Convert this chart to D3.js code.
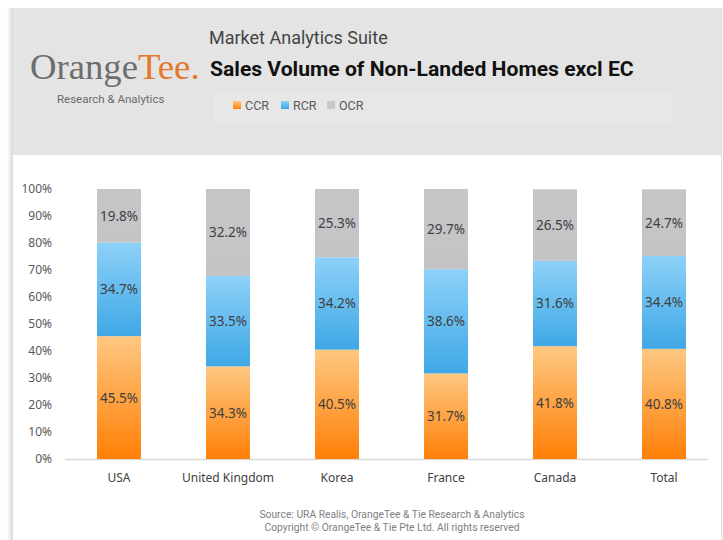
<!DOCTYPE html>
<html><head><meta charset="utf-8">
<script src="https://cdn.jsdelivr.net/npm/d3@7"></script>
<style>html,body{margin:0;padding:0;background:#fff;}svg{display:block;}</style>
</head><body>
<script>
const categories = ["USA","United Kingdom","Korea","France","Canada","Total"];
const seriesNames = ["CCR","RCR","OCR"];
const ccr = [45.5,34.3,40.5,31.7,41.8,40.8];
const rcr = [34.7,33.5,34.2,38.6,31.6,34.4];
const ocr = [19.8,32.2,25.3,29.7,26.5,24.7];
const yTicks = [0,10,20,30,40,50,60,70,80,90,100];

const W=723,H=540;
const svg=d3.select("body").append("svg").attr("width",W).attr("height",H);
const defs=svg.append("defs");
function grad(id,top,bot){const g=defs.append("linearGradient").attr("id",id).attr("x1",0).attr("y1",0).attr("x2",0).attr("y2",1);
 g.append("stop").attr("offset","0%").attr("stop-color",top);g.append("stop").attr("offset","100%").attr("stop-color",bot);}
grad("gCCR","#fec882","#ff7f06");
grad("gRCR","#8dd1f8","#3fa8e6");
grad("gOCR","#c6c6c9","#c4c4c7");
const sh=defs.append("linearGradient").attr("id","shL").attr("x1",0).attr("x2",1);
sh.append("stop").attr("offset","0%").attr("stop-color","#fff");sh.append("stop").attr("offset","100%").attr("stop-color","#d8d8d8");
const shR=defs.append("linearGradient").attr("id","shR").attr("x1",0).attr("x2",1);
shR.append("stop").attr("offset","0%").attr("stop-color","#d8d8d8");shR.append("stop").attr("offset","100%").attr("stop-color","#fff");

// frame shadows
svg.append("rect").attr("x",7).attr("y",8).attr("width",6).attr("height",H-8).attr("fill","url(#shL)");
svg.append("rect").attr("x",721).attr("y",8).attr("width",2).attr("height",H-8).attr("fill","url(#shR)");
// header
svg.append("rect").attr("x",13).attr("y",8).attr("width",708).attr("height",147).attr("fill","#e4e4e4");
svg.append("rect").attr("x",214).attr("y",91).attr("width",459).attr("height",31).attr("fill","#e7e7e7");

// logo
const l1=svg.append("text").attr("x",30).attr("y",79).attr("font-family","Liberation Serif, serif").attr("font-size",39).attr("fill","#6d6d6d").text("Orange");
let w1=l1.node().getComputedTextLength()||117;
const fs=39*108/w1; l1.attr("font-size",fs);
w1=l1.node().getComputedTextLength()||108;
svg.append("text").attr("x",30+w1).attr("y",79).attr("font-family","Liberation Serif, serif").attr("font-size",fs).attr("fill","#e5782c").text("Tee.");
svg.append("text").attr("x",57).attr("y",103).attr("font-family","Roboto, sans-serif").attr("font-size",11.5).attr("fill","#6a6a6a").text("Research & Analytics");

svg.append("text").attr("x",209).attr("y",44).attr("font-family","Roboto, sans-serif").attr("font-size",18).attr("fill","#444").text("Market Analytics Suite");
const t2=svg.append("text").attr("x",210).attr("y",76).attr("font-family","Roboto, sans-serif").attr("font-weight",700).attr("font-size",20).attr("fill","#111").text("Sales Volume of Non-Landed Homes excl EC");
const tl=t2.node().getComputedTextLength(); if(tl>0) t2.attr("font-size",20*424/tl);

// legend
const legFill=["url(#gCCR)","url(#gRCR)","#c6c6c9"];
const legX=[233,281,327];
seriesNames.forEach((s,i)=>{
 svg.append("rect").attr("x",legX[i]).attr("y",101).attr("width",8).attr("height",8).attr("fill",legFill[i]);
 svg.append("text").attr("x",legX[i]+12).attr("y",110).attr("font-family","Roboto, sans-serif").attr("font-size",12.5).attr("fill","#5a5a5a").text(s);
});

// chart
const y=d3.scaleLinear().domain([0,100]).range([459,189]);
const data=categories.map((c,i)=>({cat:c,CCR:ccr[i],RCR:rcr[i],OCR:ocr[i]}));
const stack=d3.stack().keys(seriesNames)(data);
const fills={CCR:"url(#gCCR)",RCR:"url(#gRCR)",OCR:"url(#gOCR)"};

const xa=d3.scaleBand().domain(categories).range([64.5,718.5]);
const bw=44;
svg.append("line").attr("x1",65).attr("x2",708).attr("y1",y(0)+0.5).attr("y2",y(0)+0.5).attr("stroke","#d9d9d9").attr("stroke-width",1.5);

stack.forEach(layer=>{
 const g=svg.append("g");
 g.selectAll("rect").data(layer).enter().append("rect")
  .attr("x",d=>xa(d.data.cat)+xa.bandwidth()/2-bw/2).attr("width",bw)
  .attr("y",d=>y(d[1])).attr("height",d=>y(d[0])-y(d[1])).attr("fill",fills[layer.key]);
 g.selectAll("text").data(layer).enter().append("text")
  .attr("x",d=>xa(d.data.cat)+xa.bandwidth()/2).attr("y",d=>(y(d[0])+y(d[1]))/2+5)
  .attr("text-anchor","middle").attr("font-family","Noto Sans, sans-serif").attr("font-size",13.5).attr("fill","#404040")
  .text(d=>d.data[layer.key].toFixed(1)+"%");
});

const ya=svg.append("g").attr("transform","translate(52,0)").call(d3.axisLeft(y).tickValues(yTicks).tickSize(0).tickPadding(0).tickFormat(d=>d+"%"));
ya.select(".domain").remove();
ya.selectAll("text").attr("font-family","Noto Sans, sans-serif").attr("font-size",12).attr("fill","#595959");

const xg=svg.append("g").attr("transform","translate(0,"+y(0)+")").call(d3.axisBottom(xa).tickSize(0).tickPadding(14));
xg.select(".domain").remove();
xg.selectAll("text").attr("font-family","Noto Sans, sans-serif").attr("font-size",12).attr("fill","#404040");

svg.append("text").attr("x",392).attr("y",518).attr("text-anchor","middle").attr("font-family","Roboto, sans-serif").attr("font-size",10.3).attr("fill","#808080").text("Source: URA Realis, OrangeTee & Tie Research & Analytics");
svg.append("text").attr("x",392).attr("y",531).attr("text-anchor","middle").attr("font-family","Roboto, sans-serif").attr("font-size",10.3).attr("fill","#808080").text("Copyright © OrangeTee & Tie Pte Ltd. All rights reserved");
</script>
</body></html>
